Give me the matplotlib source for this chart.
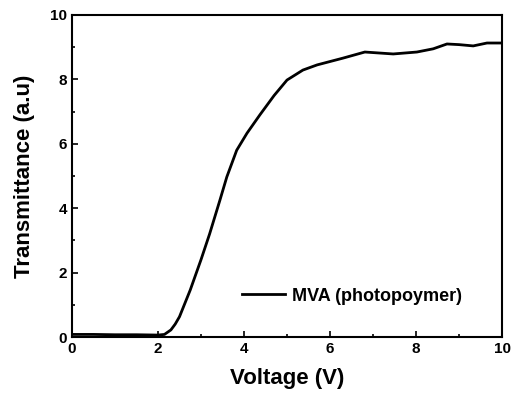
import matplotlib
matplotlib.use('Agg')
import matplotlib.pyplot as plt

# values
voltage = [0.0, 0.5, 1.0, 1.5, 2.0, 2.15, 2.3, 2.4, 2.5, 2.75, 3.0, 3.2, 3.44, 3.6, 3.83, 4.07, 4.37,
           4.7, 5.0, 5.37, 5.7, 6.3, 6.81, 7.47, 8.02, 8.4, 8.72, 9.0, 9.33, 9.65, 10.0]
transmittance = [0.08, 0.08, 0.07, 0.07, 0.06, 0.08, 0.22, 0.4, 0.63, 1.46, 2.4, 3.2, 4.25, 4.97, 5.8, 6.33, 6.9,
                 7.5, 7.98, 8.29, 8.45, 8.66, 8.85, 8.79, 8.85, 8.95, 9.1, 9.08, 9.04, 9.13, 9.13]
series_label = 'MVA (photopoymer)'

plt.rcParams['font.family'] = ['Liberation Sans', 'DejaVu Sans']
plt.rcParams['font.weight'] = 'bold'

fig = plt.figure(figsize=(5.19, 4.01), dpi=100)
ax = fig.add_axes([0.1387, 0.1596, 0.8286, 0.803])

ax.plot(voltage, transmittance, color='black', linewidth=2.0, label=series_label)

ax.set_xlim(0, 10)
ax.set_ylim(0, 10)
ax.set_xticks([0, 2, 4, 6, 8, 10])
ax.set_yticks([0, 2, 4, 6, 8, 10])
ax.set_xticks([1, 3, 5, 7, 9], minor=True)
ax.set_yticks([1, 3, 5, 7, 9], minor=True)
ax.tick_params(which='both', direction='in', top=False, right=False, width=1.2)
ax.tick_params(which='major', length=4, labelsize=11)
ax.tick_params(which='minor', length=2.5)
for lab in ax.get_xticklabels() + ax.get_yticklabels():
    lab.set_fontweight('bold')
for sp in ax.spines.values():
    sp.set_linewidth(1.5)

ax.set_xlabel('Voltage (V)', fontsize=16, fontweight='bold', labelpad=9)
ax.set_ylabel('Transmittance (a.u)', fontsize=16, fontweight='bold', labelpad=11)

ax.legend(loc='center left', bbox_to_anchor=(0.395, 0.127), frameon=False,
          prop={'size': 13, 'weight': 'bold'}, handlelength=2.4, handletextpad=0.35,
          borderpad=0, borderaxespad=0)

fig.savefig('out.png', dpi=100)
